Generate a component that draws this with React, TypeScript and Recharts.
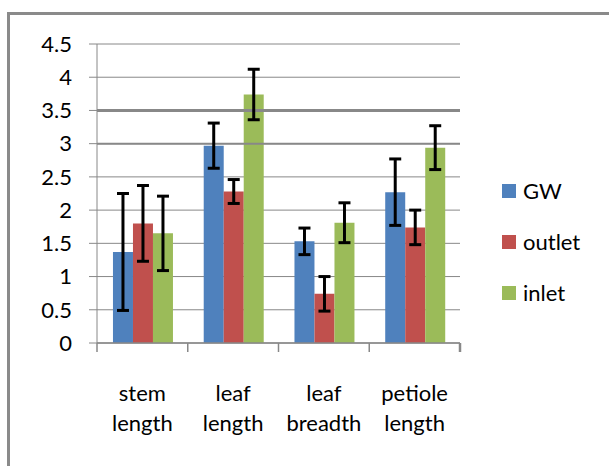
import {
  Bar,
  BarChart,
  CartesianGrid,
  ErrorBar,
  Legend,
  ReferenceLine,
  XAxis,
  YAxis,
} from "recharts";

const categories = ["stem length", "leaf length", "leaf breadth", "petiole length"];

const gwValues = [1.37, 2.97, 1.53, 2.27];
const gwErrors = [0.88, 0.34, 0.2, 0.5];
const outletValues = [1.8, 2.28, 0.74, 1.74];
const outletErrors = [0.57, 0.18, 0.26, 0.26];
const inletValues = [1.65, 3.74, 1.81, 2.94];
const inletErrors = [0.56, 0.38, 0.3, 0.33];

const yTicks = [0, 0.5, 1, 1.5, 2, 2.5, 3, 3.5, 4, 4.5];

const series = [
  { key: "GW", color: "#4F81BD", values: gwValues, errors: gwErrors },
  { key: "outlet", color: "#C0504D", values: outletValues, errors: outletErrors },
  { key: "inlet", color: "#9BBB59", values: inletValues, errors: inletErrors },
];
const seriesOrder = series.map((s) => s.key);

const data = categories.map((label, i) => {
  const row: Record<string, string | number> = { label };
  series.forEach((s) => {
    row[s.key] = s.values[i];
    row[s.key + "Err"] = s.errors[i];
  });
  return row;
});

const FONT = "Lato, 'Open Sans', sans-serif";
const GRID = "#888888";

// category label in two lines, plus tick marks on the category edges
function CategoryTick({ x, y, payload, index, width, visibleTicksCount }: any) {
  const lines = String(payload.value).split(" ");
  const half = width / visibleTicksCount / 2;
  const last = index === visibleTicksCount - 1;
  return (
    <g>
      <line x1={x - half} x2={x - half} y1={y} y2={y + 9} stroke={GRID} strokeWidth={1.5} />
      {last && (
        <line x1={x + half} x2={x + half} y1={y} y2={y + 9} stroke={GRID} strokeWidth={2.5} />
      )}
      <text x={x} y={y} textAnchor="middle" fill="#000" fontSize={22} fontFamily={FONT}>
        {lines.map((line, i) => (
          <tspan key={i} x={x} dy={i === 0 ? 58 : 30}>
            {line}
          </tspan>
        ))}
      </text>
    </g>
  );
}

function LegendContent({ payload }: any) {
  const items = [...(payload || [])].sort(
    (a: any, b: any) => seriesOrder.indexOf(a.value) - seriesOrder.indexOf(b.value)
  );
  return (
    <div style={{ fontFamily: FONT }}>
      {items.map((entry: any) => (
        <div
          key={entry.value}
          style={{ display: "flex", alignItems: "center", height: 51 }}
        >
          <span
            style={{
              width: 14,
              height: 14,
              background: entry.color,
              marginRight: 7,
              display: "inline-block",
            }}
          />
          <span style={{ fontSize: 22, color: "#000" }}>{entry.value}</span>
        </div>
      ))}
    </div>
  );
}

export default function App() {
  return (
    <div
      style={{
        position: "absolute",
        left: 0,
        top: 0,
        width: 609,
        height: 466,
        overflow: "hidden",
        background: "#fff",
        fontFamily: FONT,
      }}
    >
      <div
        style={{
          position: "absolute",
          left: 7,
          top: 12,
          width: 640,
          height: 480,
          borderTop: "3px solid #8a8a8a",
          borderLeft: "3px solid #8a8a8a",
        }}
      />
      <BarChart
        width={609}
        height={466}
        data={data}
        margin={{ top: 44, right: 149, bottom: 43, left: 37 }}
        barCategoryGap="17.6%"
        barGap={0}
      >
        <CartesianGrid vertical={false} stroke={GRID} />
        <ReferenceLine y={3.5} stroke={GRID} strokeWidth={3} />
        <ReferenceLine y={3} stroke={GRID} strokeWidth={2} />
        <XAxis
          dataKey="label"
          height={80}
          stroke={GRID}
          strokeWidth={1.5}
          tickLine={false}
          tickSize={0}
          tickMargin={0}
          tick={<CategoryTick />}
          interval={0}
        />
        <YAxis
          width={60}
          domain={[0, 4.5]}
          ticks={yTicks}
          interval={0}
          tickSize={8}
          tickMargin={17}
          stroke={GRID}
          tick={{ fill: "#000", fontSize: 22, fontFamily: FONT }}
        />
        <Legend
          layout="vertical"
          align="center"
          verticalAlign="middle"
          wrapperStyle={{ left: 502, top: 165, width: 100 }}
          content={<LegendContent />}
        />
        {series.map((s) => (
          <Bar key={s.key} dataKey={s.key} name={s.key} fill={s.color} isAnimationActive={false}>
            <ErrorBar
              dataKey={s.key + "Err"}
              width={6}
              strokeWidth={3}
              stroke="#000"
              direction="y"
            />
          </Bar>
        ))}
      </BarChart>
    </div>
  );
}
